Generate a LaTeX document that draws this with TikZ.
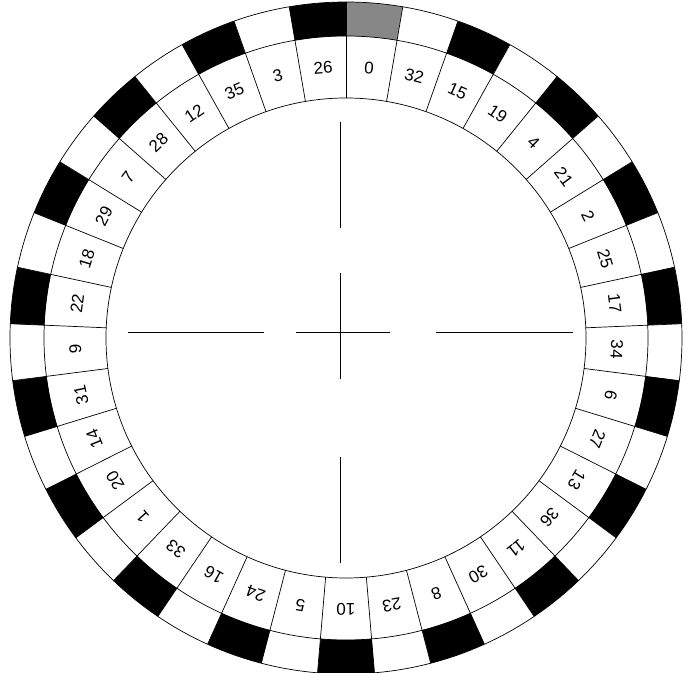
\documentclass[tikz,border=0pt]{standalone}
\usepackage{fontspec}
\setmainfont{Liberation Sans}
\usepackage{tikz}
\usepackage{xcolor}
\definecolor{zerogrey}{RGB}{135,135,135}

\begin{document}
\begin{tikzpicture}[x=0.03cm, y=0.03cm, line width=0.6pt,
    every node/.style={font=\fontsize{14.5}{15}\selectfont, inner sep=0pt}]
  \useasboundingbox (-346,-335) rectangle (341,338);
  % colour ring and cells
  \foreach \n/\col [count=\k from 0] in {0/zerogrey,32/white,15/black,19/white,
      4/black,21/white,2/black,25/white,17/black,34/white,6/black,27/white,
      13/black,36/white,11/black,30/white,8/black,23/white,10/black,5/white,
      24/black,16/white,33/black,1/white,20/black,14/white,31/black,9/white,
      22/black,18/white,29/black,7/white,28/black,12/white,35/black,3/white,
      26/black} {
    \pgfmathsetmacro\a{90-\k*360/37}
    \pgfmathsetmacro\b{\a-360/37}
    \pgfmathsetmacro\m{\a-180/37}
    \fill[\col] (\a:302) arc[start angle=\a, end angle=\b, radius=302]
      -- (\b:336) arc[start angle=\b, end angle=\a, radius=336] -- cycle;
    \draw (\a:240) -- (\a:336);
    \node[rotate=\m-90] (num\n) at (\m:271) {\n};
  }
  % rims
  \draw (0,0) circle (240);
  \draw (0,0) circle (302);
  \draw (0,0) circle (336);
  % centre lines
  \begin{scope}[shift={(-6,6)}, line width=0.5pt]
    \foreach \p/\q in {104/210,-47/59,-231/-125}
      \draw (0,\p) -- (0,\q);
    \foreach \p/\q in {-212/-76,-44/50,96/233}
      \draw (\p,0) -- (\q,0);
  \end{scope}
\end{tikzpicture}
\end{document}
